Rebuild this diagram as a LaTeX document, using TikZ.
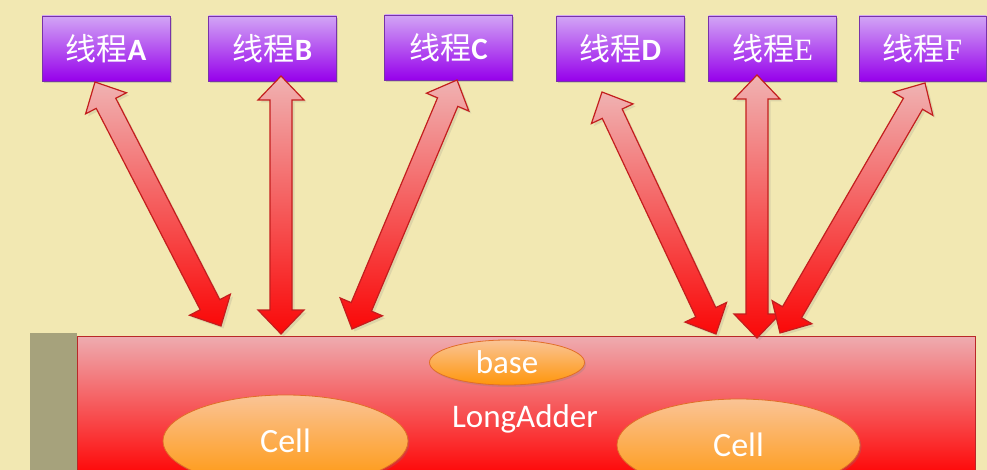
\documentclass[tikz,border=0pt]{standalone}
\usepackage{fontspec}
\setmainfont{Carlito}
\newfontfamily\cjk{Noto Sans CJK SC}
\newfontfamily\serifl{Liberation Serif}
\usetikzlibrary{calc,shapes.geometric,shadows}
\definecolor{bg}{RGB}{242,232,178}
\definecolor{purtop}{RGB}{210,165,245}
\definecolor{purmid}{RGB}{178,85,240}
\definecolor{purbot}{RGB}{150,0,235}
\definecolor{purline}{RGB}{120,50,170}
\definecolor{arrtop}{RGB}{240,178,178}
\definecolor{arrmid}{RGB}{240,125,125}
\definecolor{arrbot}{RGB}{250,8,8}
\definecolor{arrline}{RGB}{195,30,30}
\definecolor{redtop}{RGB}{238,172,176}
\definecolor{redmid}{RGB}{236,95,100}
\definecolor{redbot}{RGB}{255,0,0}
\definecolor{redline}{RGB}{185,40,40}
\definecolor{shadowstrip}{RGB}{166,162,124}
\definecolor{ortop}{RGB}{250,196,150}
\definecolor{orbot}{RGB}{255,150,10}
\definecolor{orline}{RGB}{225,110,40}
\newcommand\arrHL{24pt}
\newcommand\arrHW{23pt}
\newcommand\arrSW{11pt}
\newcommand\dblarrow[2]{%
  \shade[twoarrow]
   (#1) -- ($(#1)!\arrHL!(#2)!\arrHW!90:(#2)$) -- ($(#1)!\arrHL!(#2)!\arrSW!90:(#2)$)
   -- ($(#2)!\arrHL!(#1)!\arrSW!-90:(#1)$) -- ($(#2)!\arrHL!(#1)!\arrHW!-90:(#1)$)
   -- (#2) -- ($(#2)!\arrHL!(#1)!\arrHW!90:(#1)$) -- ($(#2)!\arrHL!(#1)!\arrSW!90:(#1)$)
   -- ($(#1)!\arrHL!(#2)!\arrSW!-90:(#2)$) -- ($(#1)!\arrHL!(#2)!\arrHW!-90:(#2)$) -- cycle;}
\tikzset{
  thread/.style={rectangle, minimum width=128pt, minimum height=65pt, inner sep=0pt,
    top color=purtop, middle color=purmid, bottom color=purbot, draw=purline, line width=0.8pt,
    text=white, font=\fontsize{31}{31}\selectfont,
    drop shadow={opacity=.3, shadow xshift=1.5pt, shadow yshift=-2pt}},
  twoarrow/.style={top color=arrtop, middle color=arrmid, bottom color=arrbot,
    draw=arrline, line width=1.2pt, line join=miter,
    drop shadow={opacity=.18, shadow xshift=2.5pt, shadow yshift=-2.5pt}},
  bigrect/.style={rectangle, minimum width=898pt, minimum height=144pt, inner sep=0pt,
    top color=redtop, middle color=redmid, bottom color=redbot, draw=redline, line width=1pt},
  orell/.style={ellipse, inner sep=0pt, top color=ortop, bottom color=orbot,
    draw=orline, line width=0.8pt, text=white,
    drop shadow={opacity=.25, shadow xshift=1.5pt, shadow yshift=-2pt}},
  lbl/.style={text=white, inner sep=0pt}
}
\begin{document}
\begin{tikzpicture}[x=1pt,y=-1pt]
\useasboundingbox (0,0) rectangle (987,470);
\clip (0,0) rectangle (987,470);
\fill[bg] (0,0) rectangle (987,470);
% thread boxes
\node[thread] (tA) at (106,48.5) {{\cjk 线程}{\bfseries A}};
\node[thread] (tB) at (272.5,48.5) {{\cjk 线程}{\bfseries B}};
\node[thread] (tC) at (448.5,47.5) {{\cjk 线程}{\bfseries C}};
\node[thread] (tD) at (620.5,48.5) {{\cjk 线程}{\bfseries D}};
\node[thread] (tE) at (772.5,48.5) {{\cjk 线程}{\serifl E}};
\node[thread, minimum width=127pt] (tF) at (922.5,48.5) {{\cjk 线程}{\serifl F}};
% LongAdder block
\fill[shadowstrip] (30,333) rectangle (77,470);
\node[bigrect] (la) at (526,408) {};
\node[lbl, anchor=base, font=\fontsize{33}{33}\selectfont] (latext) at (525,427) {LongAdder};
\node[orell, minimum width=155pt, minimum height=45pt, font=\fontsize{33}{33}\selectfont] (base) at (507,362.5) {base};
\node[orell, minimum width=245pt, minimum height=92pt, font=\fontsize{34}{34}\selectfont] (cell1) at (285.5,441) {Cell};
\node[orell, minimum width=243pt, minimum height=92pt, font=\fontsize{34}{34}\selectfont] (cell2) at (738.5,445) {Cell};
% arrow end points
\coordinate (aA) at (95,82);   \coordinate (bA) at (221,326);
\coordinate (aB) at (281,76);  \coordinate (bB) at (281,334);
\coordinate (aC) at (457,80);  \coordinate (bC) at (352,329);
\coordinate (aD) at (602,92);  \coordinate (bD) at (716,334);
\coordinate (aE) at (757,75);  \coordinate (bE) at (757,338);
\coordinate (aF) at (925,83);  \coordinate (bF) at (780,333);
\dblarrow{aA}{bA}
\dblarrow{aB}{bB}
\dblarrow{aC}{bC}
\dblarrow{aD}{bD}
\dblarrow{aE}{bE}
\dblarrow{aF}{bF}
\end{tikzpicture}
\end{document}
